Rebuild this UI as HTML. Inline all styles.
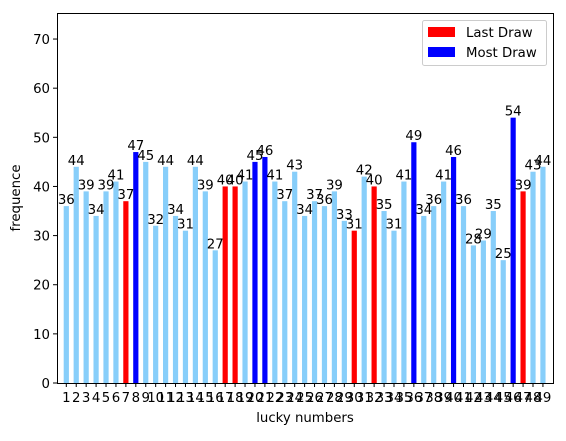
<!DOCTYPE html>
<html><head><meta charset="utf-8"><style>
body{margin:0;background:#fff}
svg text{font-family:"DejaVu Sans","Liberation Sans",sans-serif;fill:#000}
</style></head><body>
<svg id="chart" width="566" height="436">
<g id="bars"></g>
<g id="labels"></g>
<g id="yaxis"></g>
<g id="xaxis"></g>
<rect x="57.5" y="13.5" width="496" height="370" fill="none" stroke="#000" stroke-width="1"/>
<text x="20" y="198" transform="rotate(-90 20 198)" text-anchor="middle" font-size="13.3">frequence</text>
<text x="305" y="422" text-anchor="middle" font-size="13.3">lucky numbers</text>
<g>
<rect x="422.5" y="20.5" width="124" height="45" rx="2" fill="#fff" stroke="#ccc"/>
<rect x="428" y="27" width="27" height="10" fill="#ff0000"/>
<text x="466" y="37" font-size="13.3">Last Draw</text>
<rect x="428" y="47" width="27" height="10" fill="#0000ff"/>
<text x="466" y="57" font-size="13.3">Most Draw</text>
</g>
</svg>
<script>
const categories = [1,2,3,4,5,6,7,8,9,10,11,12,13,14,15,16,17,18,19,20,21,22,23,24,25,26,27,28,29,30,31,32,33,34,35,36,37,38,39,40,41,42,43,44,45,46,47,48,49];
const frequencies = [36,44,39,34,39,41,37,47,45,32,44,34,31,44,39,27,40,40,41,45,46,41,37,43,34,37,36,39,33,31,42,40,35,31,41,49,34,36,41,46,36,28,29,35,25,54,39,43,44];
const lastDraw = [7,17,18,30,32,47];
const mostDraw = [8,20,21,36,40,46];
const yTicks = [0,10,20,30,40,50,60,70];
const NS='http://www.w3.org/2000/svg';
const x0=57, x1=553, y0=383, y1=13, yMax=75.3;
function xPos(i){return 66.3+i*9.93;}
function yPos(v){return y0-(v/yMax)*(y0-y1);}
function mk(tag,attrs,parent){const e=document.createElementNS(NS,tag);for(const k in attrs)e.setAttribute(k,attrs[k]);parent.appendChild(e);return e;}
const gb=document.getElementById('bars'), gl=document.getElementById('labels'), gy=document.getElementById('yaxis'), gx=document.getElementById('xaxis');
categories.forEach((c,i)=>{
  const v=frequencies[i];
  let col='#87cefa';
  if(lastDraw.includes(c))col='#ff0000';
  if(mostDraw.includes(c))col='#0000ff';
  const cx=xPos(i);
  const r=mk('rect',{x:cx-2.6,y:yPos(v),width:5.2,height:y0-yPos(v),fill:col},gb);
  
  
  const t=mk('text',{x:cx,y:yPos(v)-2,'text-anchor':'middle','font-size':'13.3'},gl);
  t.textContent=v;
  
  
  const tk=mk('line',{x1:cx,x2:cx,y1:y0,y2:y0+4,stroke:'#000'},gx);
  
  
  const tl=mk('text',{x:cx,y:y0+19,'text-anchor':'middle','font-size':'13.3'},gx);
  tl.textContent=c;
  
  
});
yTicks.forEach(v=>{
  const y=yPos(v);
  const tk=mk('line',{x1:x0-4,x2:x0,y1:y,y2:y,stroke:'#000'},gy);
  
  
  const tl=mk('text',{x:x0-7,y:y+5,'text-anchor':'end','font-size':'13.3'},gy);
  tl.textContent=v;
  
  
});
</script>
</body></html>
